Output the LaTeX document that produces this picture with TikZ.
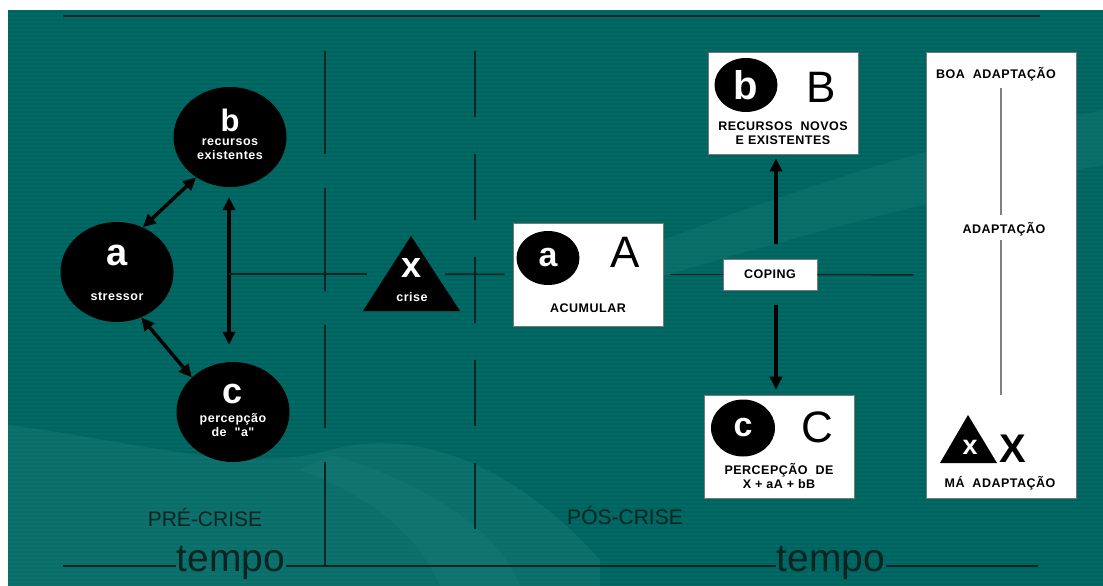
\documentclass[tikz,border=0pt]{standalone}
\usepackage{fontspec}
\setmainfont{Liberation Sans}
\usetikzlibrary{arrows.meta,positioning,shapes.geometric}
\definecolor{bgteal}{RGB}{0,106,101}
\definecolor{stripeteal}{RGB}{0,94,90}
\definecolor{handteal}{RGB}{60,150,145}
\definecolor{ink}{RGB}{10,36,36}
\definecolor{boxline}{RGB}{120,120,120}
\newcommand{\fsz}[1]{\fontsize{#1}{#1}\selectfont}

\begin{document}
\begin{tikzpicture}[x=1pt,y=-1pt,>={Triangle[length=13pt,width=12pt]},
  every node/.style={inner sep=0pt,align=center},
  blob/.style={ellipse,fill=black,minimum width=113pt,minimum height=100pt},
  smallblob/.style={ellipse,fill=black,minimum width=63pt,minimum height=55pt},
  card/.style={draw=boxline,fill=white,line width=0.8pt},
  guide/.style={draw=ink,line width=1.5pt},
  duoarrow/.style={<->,line width=3.4pt},
  oneway/.style={->,line width=3.4pt},
  whiteletter/.style={text=white,font=\bfseries\fsz{#1}},
  tinylabel/.style={text=white,font=\bfseries\fsz{12.5}\addfontfeature{LetterSpace=4,Ligatures=TeXOff}},
  cardlabel/.style={font=\bfseries\fsz{12.5}\addfontfeature{LetterSpace=4}},
  bigletter/.style={font=\fsz{44}},
  phase/.style={text=ink,font=\fsz{21}},
  tempolabel/.style={text=ink,font=\fsz{39},anchor=base,inner sep=1pt}]
\useasboundingbox (0,0) rectangle (1103,586);
% background
\fill[white] (0,0) rectangle (1103,586);
\fill[bgteal] (8,10) rectangle (1103,586);
\foreach \sy in {12,16,...,584}
  \draw[stripeteal,line width=1.4pt,opacity=.6] (8,\sy) -- (1103,\sy);
\fill[handteal,opacity=.2] (8,425) .. controls (130,440) and (240,475) .. (330,450)
  .. controls (420,425) and (520,470) .. (600,560) -- (600,586) -- (8,586) -- cycle;
\fill[handteal,opacity=.12] (300,470) .. controls (380,500) and (420,540) .. (440,586)
  -- (520,586) .. controls (500,530) and (420,480) .. (330,455) -- cycle;
\fill[handteal,opacity=.16] (600,265) .. controls (750,205) and (900,150) .. (1103,110)
  -- (1103,165) .. controls (950,195) and (800,235) .. (650,280) -- cycle;

% frame lines
\draw[guide,line width=2pt] (63,16) -- (1040,16);
\draw[ink,line width=1.5pt,dash pattern=on 103pt off 34pt] (325,51) -- (325,566);
\draw[ink,line width=1.5pt,dash pattern=on 66pt off 37pt] (475,51) -- (475,530);

% pre-crisis circles
\node[blob] (ca) at (117,272) {};
\node[blob] (cb) at (230,137) {};
\node[blob] (cc) at (233,412) {};
\node[whiteletter=38] (la) at (117,255) {a};
\node[tinylabel] (sa) at (117,296) {stressor};
\node[whiteletter=31] (lb) at (230,120) {b};
\node[tinylabel] (sb) at (230,149) {recursos\\[2pt]existentes};
\node[whiteletter=36] (lc) at (233,394) {c};
\node[tinylabel] (sc) at (233,425) {percepção\\[2pt]de \ "a"};

\coordinate (bcmid) at (229,274);
\draw[duoarrow] (ca.60) -- (cb.230);
\draw[duoarrow] (ca.298) -- (cc.140);
\draw[duoarrow,shorten <=10pt,shorten >=17pt] (bcmid |- cb.south) -- (bcmid |- cc.north);

% crisis
\coordinate (xtop) at (411,236);
\coordinate (xl) at (367,274);
\coordinate (xr) at (445,274);
\fill (xtop) -- (460,311) -- (363,311) -- cycle;
\node[whiteletter=36] (lx) at (412,268) {x};
\node[tinylabel] (sx) at (412,297) {crise};
\draw[guide] (bcmid) -- (xl);

% post-crisis cards
\node[card,minimum width=150pt,minimum height=103pt] (boxa) at (588,274.5) {};
\node[smallblob,minimum width=63pt,minimum height=54pt] (da) at (548,258) {};
\node[whiteletter=34] at (da) {a};
\node[bigletter] (ba) at (625,252) {A};
\node[cardlabel] (ta) at (588,308) {ACUMULAR};
\draw[guide,shorten >=8pt] (xr) -- (boxa.west);

\node[card,minimum width=94pt,minimum height=31pt] (coping) at (770,274.5) {};
\node[cardlabel] at (coping) {COPING};
\draw[guide,shorten <=7pt] (boxa.east) -- (coping.west);

\node[card,minimum width=150pt,minimum height=102pt] (boxb) at (783,103) {};
\node[smallblob,minimum height=54pt] (db) at (746,85) {};
\node[whiteletter=40] at (db) {b};
\node[bigletter] (bb) at (821,87) {B};
\node[cardlabel] (tb) at (783,133) {RECURSOS \ NOVOS\\[2pt]E EXISTENTES};

\node[card,minimum width=150pt,minimum height=103pt] (boxc) at (779,446.5) {};
\node[smallblob,minimum width=64pt,minimum height=57pt] (dc) at (743,428) {};
\node[whiteletter=34] at (dc) {c};
\node[bigletter] (bc) at (817,427) {C};
\node[cardlabel] (tc) at (779,476) {PERCEPÇÃO \ DE\\[2pt]X + aA + bB};

\draw[oneway,shorten <=15pt,shorten >=4pt] ([xshift=6pt]coping.north) -- ([xshift=6pt]coping.north |- boxb.south);
\draw[oneway,shorten <=15pt,shorten >=5pt] ([xshift=6pt]coping.south) -- ([xshift=6pt]coping.south |- boxc.north);

% adaptation scale
\node[card,minimum width=150pt,minimum height=446pt] (scale) at (1001,275) {};
\draw[guide,shorten >=12pt] (coping.east) -- (scale.west);
\node[cardlabel] (good) at (996,74) {BOA \ ADAPTAÇÃO};
\node[cardlabel] (mid) at (1004,229) {ADAPTAÇÃO};
\node[cardlabel] (bad) at (1000,483) {MÁ \ ADAPTAÇÃO};
\draw[gray,line width=1.2pt] (1001,88) -- (1001,215);
\draw[gray,line width=1.2pt] (1001,240) -- (1001,395);
\fill (968,415) -- (997,463) -- (940,463) -- cycle;
\node[whiteletter=27] (lxs) at (970,447) {x};
\node[font=\bfseries\fsz{40}] (bx) at (1013,449) {X};

% phases and time axis
\node[phase] (pre) at (205,517) {PRÉ-CRISE};
\node[phase] (pos) at (625,515) {PÓS-CRISE};
\node[tempolabel] (tempoa) at (231,571) {tempo};
\node[tempolabel] (tempob) at (831,571) {tempo};
\coordinate (axl) at (63,566);
\coordinate (axr) at (1038,566);
\draw[guide] (axl) -- (axl -| tempoa.west);
\draw[guide] (axl -| tempoa.east) -- (axl -| tempob.west);
\draw[guide] (axl -| tempob.east) -- (axr);
\end{tikzpicture}
\end{document}
